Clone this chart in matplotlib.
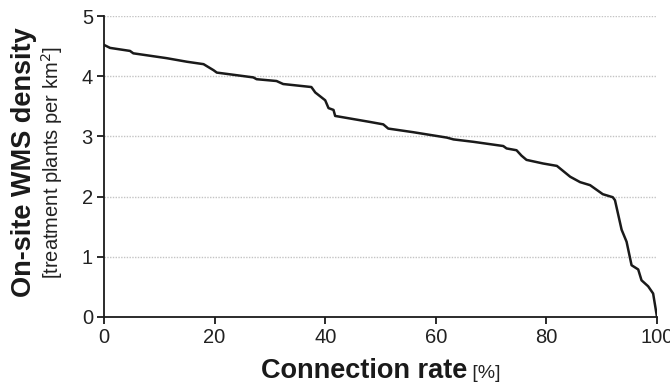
import matplotlib
matplotlib.use("Agg")
import matplotlib.pyplot as plt
from matplotlib.offsetbox import TextArea, HPacker, AnnotationBbox

plt.rcParams['font.family'] = ['Liberation Sans', 'DejaVu Sans']

connection_rate = [0, 1.1, 4.7, 5.3, 11.3, 15, 18, 19.8, 20.4, 27, 27.6, 31.2, 32.4,
                   37.5, 38.2, 40, 40.6, 41.5, 41.8, 48.1, 50.5, 51.4, 55.9, 62, 63.2,
                   66.8, 72.2, 72.8, 74.6, 75.5, 76.4, 79.4, 81.9, 84.3, 86.1, 87.9,
                   90.2, 92.0, 92.4, 93.6, 94.5, 95.4, 96.6, 97.2, 98.4, 99.3, 100]
wms_density = [4.52, 4.47, 4.42, 4.38, 4.30, 4.24, 4.20, 4.10, 4.06, 3.98, 3.95, 3.92, 3.87,
               3.82, 3.73, 3.60, 3.47, 3.44, 3.34, 3.24, 3.20, 3.13, 3.07, 2.98, 2.95,
               2.91, 2.84, 2.80, 2.77, 2.68, 2.61, 2.55, 2.51, 2.33, 2.24, 2.19,
               2.04, 1.99, 1.94, 1.45, 1.25, 0.86, 0.79, 0.61, 0.51, 0.39, 0.0]
x_ticks = [0, 20, 40, 60, 80, 100]
y_ticks = [0, 1, 2, 3, 4, 5]

W, H = 670, 384
fig = plt.figure(figsize=(W / 100, H / 100), dpi=100)
ax = fig.add_axes([104 / W, 1 - 317 / H, (657 - 104) / W, (317 - 16) / H])

ax.plot(connection_rate, wms_density, color='#1a1a1a', lw=1.8, solid_joinstyle='round', zorder=3)

ax.set_xlim(0, 100)
ax.set_ylim(0, 5)
ax.set_xticks(x_ticks)
ax.set_yticks(y_ticks)
ax.tick_params(axis='both', labelsize=14.5, length=5, width=1.3, color='#1a1a1a',
               labelcolor='#222222', pad=3)
for t in y_ticks[1:]:
    ax.axhline(t, color='#c4c4c4', lw=1.0, ls=(0, (1, 1)), zorder=1)
for s in ['top', 'right']:
    ax.spines[s].set_visible(False)
for s in ['left', 'bottom']:
    ax.spines[s].set_linewidth(1.3)
    ax.spines[s].set_color('#1a1a1a')

# y label: two rotated lines
fig.text(24 / W, 1 - 162 / H, 'On-site WMS density', rotation=90, fontsize=19.5,
         fontweight='bold', color='#1a1a1a', ha='center', va='center')
fig.text(52 / W, 1 - 163 / H, '[treatment plants per km$^2$]', rotation=90, fontsize=14.5,
         color='#222222', ha='center', va='center')

# x label: bold + normal
ta1 = TextArea('Connection rate', textprops=dict(fontsize=19.5, fontweight='bold', color='#1a1a1a'))
ta2 = TextArea(' [%]', textprops=dict(fontsize=14, color='#222222'))
pack = HPacker(children=[ta1, ta2], align='baseline', pad=0, sep=0)
ab = AnnotationBbox(pack, (381 / W, 1 - 371 / H), xycoords='figure fraction',
                    frameon=False, box_alignment=(0.5, 0.5))
fig.add_artist(ab)

fig.savefig('out.png', dpi=100)
